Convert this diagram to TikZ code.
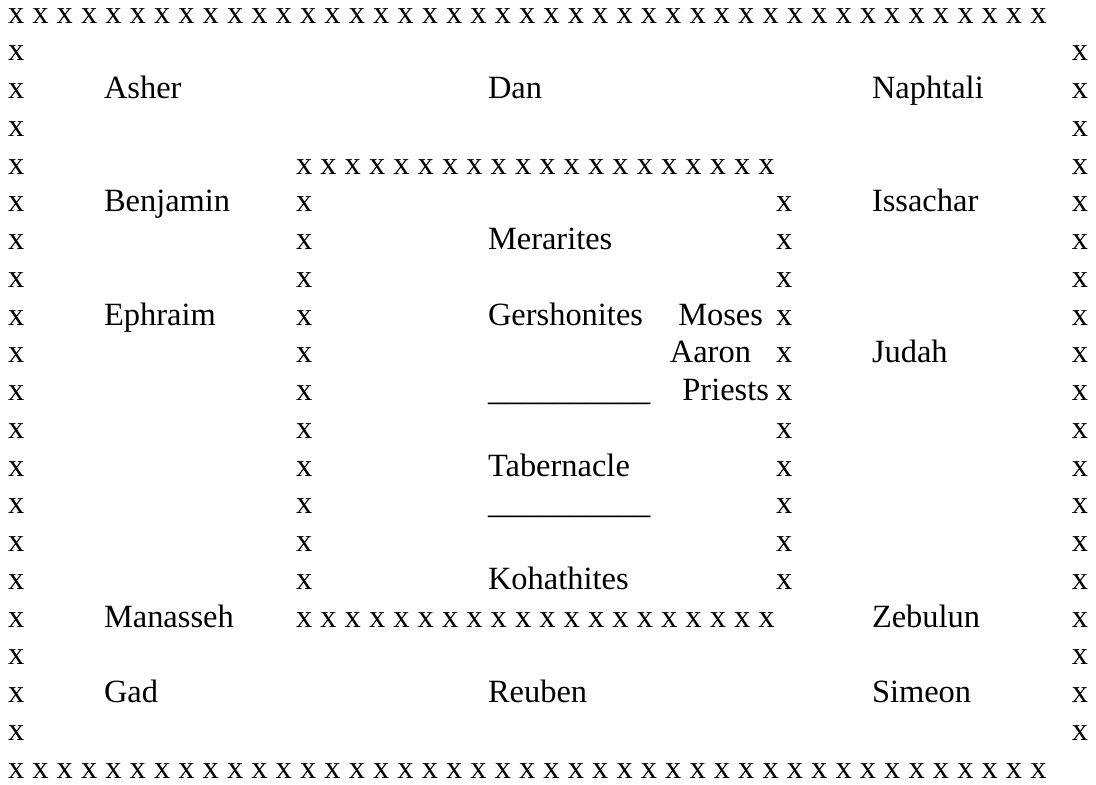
\documentclass[tikz,border=0pt]{standalone}
\usepackage{fontspec}
\setmainfont{Liberation Serif}
\begin{document}
\begin{tikzpicture}[x=0.75pt,y=-0.75pt,
  txt/.style={anchor=base west, inner sep=0pt, outer sep=0pt, font=\fontsize{24.34pt}{29pt}\selectfont},
  txtr/.style={txt, anchor=base east}]
\useasboundingbox (0,0) rectangle (1096,785);
% outer border
\node[txt] (top) at (8,23) {x x x x x x x x x x x x x x x x x x x x x x x x x x x x x x x x x x x x x x x x x x x};
\node[txt] (bot) at (8,{23+20*37.75}) {x x x x x x x x x x x x x x x x x x x x x x x x x x x x x x x x x x x x x x x x x x x};
\foreach \i in {1,...,19} {
  \node[txt] (L\i) at (8,{23+\i*37.75}) {x};
  \node[txtr] (R\i) at (1088,{23+\i*37.75}) {x};
}
% inner border
\node[txt] (itop) at (296,{23+4*37.75}) {x x x x x x x x x x x x x x x x x x x x};
\node[txt] (ibot) at (296,{23+16*37.75}) {x x x x x x x x x x x x x x x x x x x x};
\foreach \i in {5,...,15} {
  \node[txt] (IL\i) at (296,{23+\i*37.75}) {x};
  \node[txt] (IR\i) at (776,{23+\i*37.75}) {x};
}
% left tribes
\node[txt] (asher) at (104,{23+2*37.75}) {Asher};
\node[txt] (benjamin) at (104,{23+5*37.75}) {Benjamin};
\node[txt] (ephraim) at (104,{23+8*37.75}) {Ephraim};
\node[txt] (manasseh) at (104,{23+16*37.75}) {Manasseh};
\node[txt] (gad) at (104,{23+18*37.75}) {Gad};
% centre
\node[txt] (dan) at (488,{23+2*37.75}) {Dan};
\node[txt] (merarites) at (488,{23+6*37.75}) {Merarites};
\node[txt] (gershonites) at (488,{23+8*37.75}) {Gershonites};
\node[txt] (line1) at (488,{23+10*37.75}) {\_\_\_\_\_\_\_\_\_\_};
\node[txt] (tabernacle) at (488,{23+12*37.75}) {Tabernacle};
\node[txt] (line2) at (488,{23+13*37.75}) {\_\_\_\_\_\_\_\_\_\_};
\node[txt] (kohathites) at (488,{23+15*37.75}) {Kohathites};
\node[txt] (reuben) at (488,{23+18*37.75}) {Reuben};
% Moses, Aaron, Priests
\node[txtr] (moses) at (763,{23+8*37.75}) {Moses};
\node[txtr] (aaron) at (751,{23+9*37.75}) {Aaron};
\node[txtr] (priests) at (769,{23+10*37.75}) {Priests};
% right tribes
\node[txt] (naphtali) at (872,{23+2*37.75}) {Naphtali};
\node[txt] (issachar) at (872,{23+5*37.75}) {Issachar};
\node[txt] (judah) at (872,{23+9*37.75}) {Judah};
\node[txt] (zebulun) at (872,{23+16*37.75}) {Zebulun};
\node[txt] (simeon) at (872,{23+18*37.75}) {Simeon};
\end{tikzpicture}
\end{document}
